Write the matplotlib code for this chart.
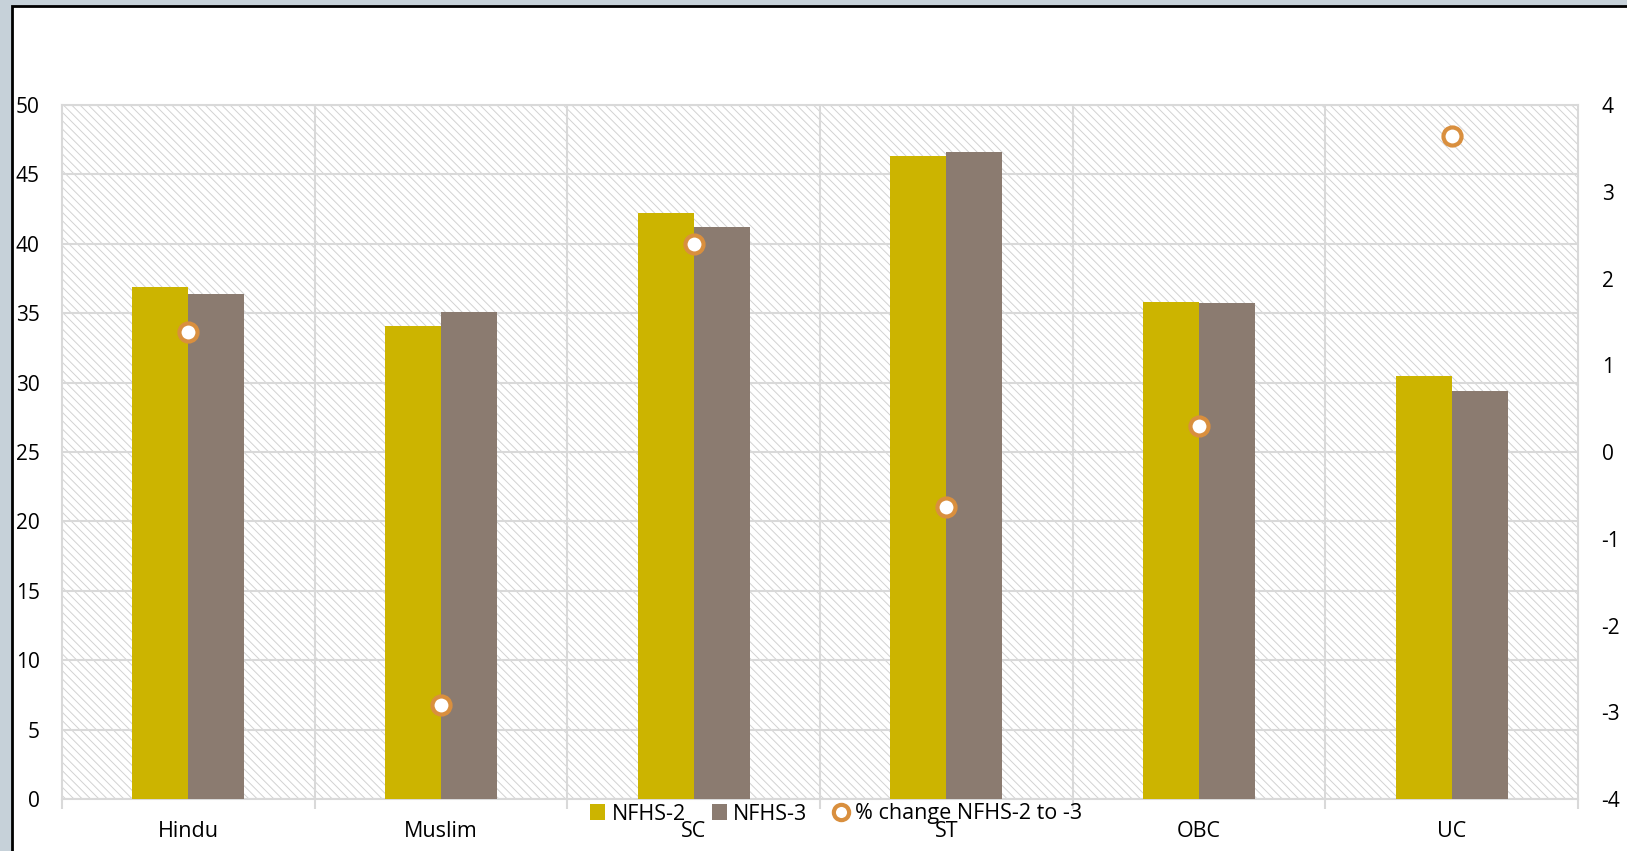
import numpy as np
import matplotlib
matplotlib.use("Agg")
from matplotlib import pyplot as plt
from matplotlib.patches import Rectangle
from matplotlib.lines import Line2D

# groups and values
groups = ["Hindu", "Muslim", "SC", "ST", "OBC", "UC"]
nfhs2 = [36.9, 34.1, 42.2, 46.3, 35.8, 30.5]
nfhs3 = [36.4, 35.1, 41.2, 46.6, 35.7, 29.4]
pct_change = [1.38, -2.92, 2.40, -0.63, 0.30, 3.64]

c_nfhs2 = "#ccb400"
c_nfhs3 = "#8b7b70"
c_ring = "#d98f3e"
c_grid = "#d9d9d9"

plt.rcParams["font.family"] = ["Open Sans", "DejaVu Sans"]
plt.rcParams["hatch.linewidth"] = 0.7
plt.rcParams["axes.unicode_minus"] = False

fig = plt.figure(figsize=(16.27, 8.51), dpi=100)
fig.patch.set_facecolor("#c6d1d9")

# white chart frame with black border
frame = Rectangle((12 / 1627, -0.1), 1.2, (851 - 6) / 851 + 0.1, transform=fig.transFigure,
                  facecolor="white", edgecolor="black", linewidth=2, zorder=-10)
fig.patches.append(frame)

ax = fig.add_axes([62 / 1627, 52 / 851, (1578 - 62) / 1627, (799 - 105) / 851])
ax.set_facecolor("none")

# hatched plot background
bg = Rectangle((0, 0), 1, 1, transform=ax.transAxes, facecolor="white",
               edgecolor="#d2d2d2", linewidth=0, hatch="\\\\\\\\", zorder=0)
ax.add_patch(bg)

x = np.arange(len(groups))
w = 0.222
ax.bar(x - w / 2, nfhs2, width=w, color=c_nfhs2, zorder=3)
ax.bar(x + w / 2, nfhs3, width=w, color=c_nfhs3, zorder=3)

ax.set_xlim(-0.5, len(groups) - 0.5)
ax.set_ylim(0, 50)
ax.set_yticks(np.arange(0, 51, 5))
ax.set_xticks(x)
ax.set_xticklabels(groups, fontsize=15.5)
ax.set_xticks(np.arange(-0.5, len(groups), 1), minor=True)
ax.tick_params(axis="x", which="major", length=0, pad=16)
ax.tick_params(axis="x", which="minor", length=7, color=c_grid, width=1.5)
ax.tick_params(axis="y", length=0, labelsize=15, pad=16)
ax.grid(axis="y", color=c_grid, linewidth=1.5, zorder=1)
for xv in np.arange(0.5, len(groups) - 1, 1):
    ax.axvline(xv, color=c_grid, linewidth=1.5, zorder=1)
for s in ax.spines.values():
    s.set_color(c_grid)
    s.set_linewidth(1.5)
ax.set_axisbelow(True)

ax2 = ax.twinx()
ax2.set_ylim(-4, 4)
ax2.set_yticks(np.arange(-4, 5, 1))
ax2.tick_params(axis="y", length=0, labelsize=15, pad=17)
for s in ax2.spines.values():
    s.set_visible(False)
ax2.plot(x, pct_change, linestyle="none", marker="o", markersize=13,
         markerfacecolor="white", markeredgecolor=c_ring, markeredgewidth=3, zorder=5)

handles = [
    Rectangle((0, 0), 1, 1, facecolor=c_nfhs2),
    Rectangle((0, 0), 1, 1, facecolor=c_nfhs3),
    Line2D([], [], linestyle="none", marker="o", markersize=11,
           markerfacecolor="white", markeredgecolor=c_ring, markeredgewidth=3),
]
fig.legend(handles, ["NFHS-2", "NFHS-3", "% change NFHS-2 to -3"], loc="center",
           bbox_to_anchor=(836 / 1627, 37 / 851), ncol=3, frameon=False, fontsize=15.5,
           handlelength=0.7, handleheight=0.7, handletextpad=0.3, columnspacing=1.2)

fig.savefig("out.png", dpi=100, facecolor=fig.get_facecolor())
